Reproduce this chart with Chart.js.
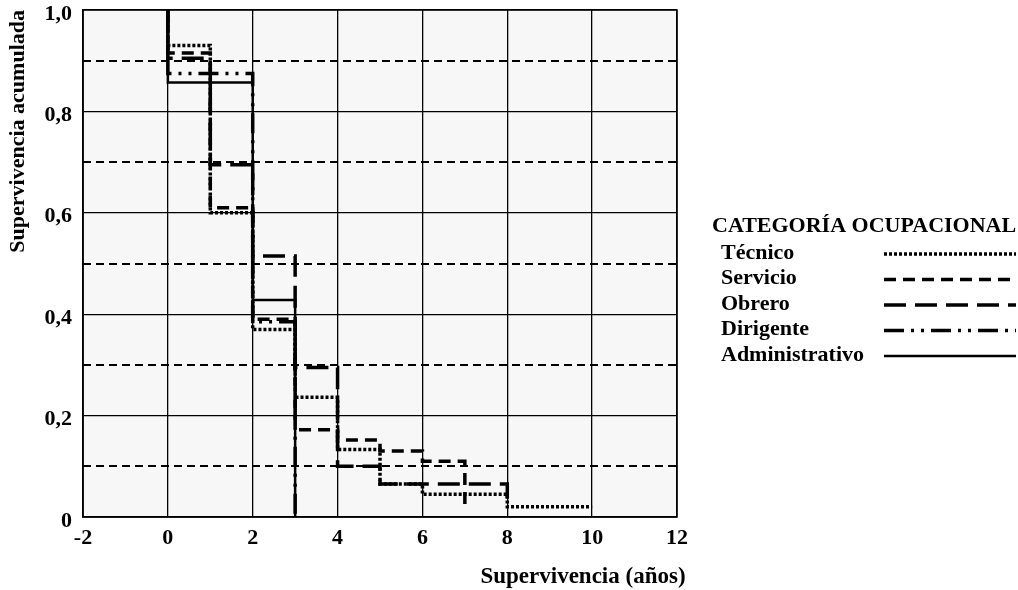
<!DOCTYPE html>
<html lang="es">
<head>
<meta charset="utf-8">
<title>Supervivencia acumulada por categoría ocupacional</title>
<script src="https://cdn.jsdelivr.net/npm/chart.js@4.4.1/dist/chart.umd.min.js"></script>
<style>
  html, body { margin: 0; padding: 0; background: #ffffff; }
  #lienzo { display: block; }
</style>
</head>
<body>
<canvas id="lienzo" width="1018" height="590"></canvas>
<script>
// Curvas de supervivencia (Kaplan-Meier) por categoría ocupacional
const categorias = ['Técnico', 'Servicio', 'Obrero', 'Dirigente', 'Administrativo'];

const tiemposTecnico = [0, 0, 1, 2, 3, 4, 5, 6, 8, 10];
const supervTecnico  = [1, 0.93, 0.60, 0.37, 0.236, 0.133, 0.065, 0.045, 0.02, 0.02];

const tiemposServicio = [0, 0, 1, 2, 3, 4, 5, 6, 7];
const supervServicio  = [1, 0.915, 0.61, 0.39, 0.172, 0.152, 0.13, 0.11, 0.025];

const tiemposObrero = [0, 0, 1, 2, 3, 4, 5, 8];
const supervObrero  = [1, 0.905, 0.695, 0.515, 0.295, 0.10, 0.065, 0.02];

const tiemposDirigente = [0, 0, 2, 3];
const supervDirigente  = [1, 0.875, 0.385, 0];

const tiemposAdministrativo = [0, 0, 2, 3];
const supervAdministrativo  = [1, 0.857, 0.428, 0];

const ejeXMin = -2, ejeXMax = 12, pasoX = 2;
const ejeYMin = 0, ejeYMax = 1, pasoY = 0.1;
const etiquetasY = ['0', '0,2', '0,4', '0,6', '0,8', '1,0'];

const tituloLeyenda = 'CATEGORÍA OCUPACIONAL';
const tituloX = 'Supervivencia (años)';
const tituloY = 'Supervivencia acumulada';

// Trazo de cada categoría
const trazos = [
  { dash: [3, 2], ancho: 3.5 },
  { dash: [12, 7], ancho: 3.5 },
  { dash: [22, 9], ancho: 3.5 },
  { dash: [20, 7, 3, 7, 3, 7], ancho: 3.5 },
  { dash: [], ancho: 2.5 }
];

const FUENTE = "'Liberation Serif', 'Times New Roman', serif";

function puntos(ts, vs) {
  return ts.map((t, i) => ({ x: t, y: vs[i] }));
}

const series = [
  puntos(tiemposTecnico, supervTecnico),
  puntos(tiemposServicio, supervServicio),
  puntos(tiemposObrero, supervObrero),
  puntos(tiemposDirigente, supervDirigente),
  puntos(tiemposAdministrativo, supervAdministrativo)
];

// Escalón: el valor anterior se mantiene hasta el tiempo del evento
const datasets = categorias.map((nombre, i) => ({
  label: nombre,
  data: series[i],
  stepped: 'before',
  borderColor: '#000000',
  borderWidth: trazos[i].ancho,
  borderDash: trazos[i].dash,
  borderCapStyle: 'butt',
  borderJoinStyle: 'miter',
  pointRadius: 0,
  fill: false,
  clip: false
}));

// Fondo gris del área de trazado
const fondoArea = {
  id: 'fondoArea',
  beforeDraw(chart) {
    const { ctx, chartArea: a } = chart;
    ctx.save();
    ctx.fillStyle = '#f7f7f7';
    ctx.fillRect(a.left, a.top, a.right - a.left, a.bottom - a.top);
    ctx.restore();
  }
};

// Líneas discontinuas en las décimas impares, marco completo y título del eje X
const referencias = {
  id: 'referencias',
  beforeDatasetsDraw(chart) {
    const { ctx, chartArea: a } = chart;
    const escala = chart.scales.y;
    ctx.save();
    ctx.strokeStyle = '#000000';
    ctx.lineWidth = 2;
    ctx.setLineDash([8, 5]);
    escala.ticks.forEach((t, i) => {
      if (i % 2 === 1) {
        const y = Math.round(escala.getPixelForValue(t.value));
        ctx.beginPath();
        ctx.moveTo(a.left, y);
        ctx.lineTo(a.right, y);
        ctx.stroke();
      }
    });
    ctx.restore();
  },
  afterDatasetsDraw(chart) {
    const { ctx, chartArea: a } = chart;
    ctx.save();
    ctx.strokeStyle = '#000000';
    ctx.lineWidth = 1.5;
    ctx.strokeRect(a.left, a.top, a.right - a.left, a.bottom - a.top);
    ctx.fillStyle = '#000000';
    ctx.font = 'bold 23px ' + FUENTE;
    ctx.textAlign = 'center';
    ctx.textBaseline = 'middle';
    ctx.fillText(tituloX, 583, 577);
    ctx.restore();
  }
};

// Leyenda a la derecha: nombre a la izquierda, muestra de trazo a la derecha
const leyenda = {
  id: 'leyenda',
  afterDraw(chart) {
    const { ctx } = chart;
    ctx.save();
    ctx.fillStyle = '#000000';
    ctx.textBaseline = 'middle';
    ctx.textAlign = 'left';
    ctx.font = 'bold 22px ' + FUENTE;
    ctx.fillText(tituloLeyenda, 712, 226);
    chart.data.datasets.forEach((ds, i) => {
      const y = 253 + i * 25.5;
      ctx.font = 'bold 22px ' + FUENTE;
      ctx.fillText(ds.label, 721, y);
      ctx.beginPath();
      ctx.setLineDash(ds.borderDash || []);
      ctx.lineWidth = ds.borderWidth;
      ctx.strokeStyle = '#000000';
      ctx.moveTo(884, y + 1);
      ctx.lineTo(1016, y + 1);
      ctx.stroke();
    });
    ctx.restore();
  }
};

new Chart(document.getElementById('lienzo'), {
  type: 'line',
  data: { datasets },
  options: {
    responsive: false,
    devicePixelRatio: 1,
    animation: false,
    layout: { padding: { top: 10, right: 341, left: 0, bottom: 0 } },
    plugins: {
      legend: { display: false },
      tooltip: { enabled: false }
    },
    scales: {
      x: {
        type: 'linear',
        min: ejeXMin,
        max: ejeXMax,
        afterFit(s) { s.height = 73; s.paddingLeft = 0; s.paddingRight = 0; },
        ticks: {
          stepSize: pasoX,
          color: '#000000',
          padding: 8,
          font: { family: FUENTE, size: 22, weight: 'bold' }
        },
        grid: { color: '#000000', lineWidth: 1.3, drawTicks: false },
        border: { display: true, color: '#000000', width: 1.5 }
      },
      y: {
        type: 'linear',
        min: ejeYMin,
        max: ejeYMax,
        afterFit(s) { s.width = 83; s.paddingTop = 0; s.paddingBottom = 0; },
        ticks: {
          stepSize: pasoY,
          autoSkip: false,
          color: '#000000',
          padding: 11,
          labelOffset: 4,
          font: { family: FUENTE, size: 22, weight: 'bold' },
          callback(v) {
            const d = Math.round(v * 10);
            return d % 2 === 0 ? etiquetasY[d / 2] : '';
          }
        },
        grid: {
          drawTicks: false,
          lineWidth: 1.3,
          color(ctx) {
            const d = Math.round(ctx.tick.value * 10);
            return d % 2 === 0 ? '#000000' : 'rgba(0,0,0,0)';
          }
        },
        border: { display: true, color: '#000000', width: 1.5 },
        title: {
          display: true,
          text: tituloY,
          align: 'end',
          color: '#000000',
          padding: { top: 5, bottom: 0 },
          font: { family: FUENTE, size: 22, weight: 'bold' }
        }
      }
    }
  },
  plugins: [fondoArea, referencias, leyenda]
});
</script>
</body>
</html>
